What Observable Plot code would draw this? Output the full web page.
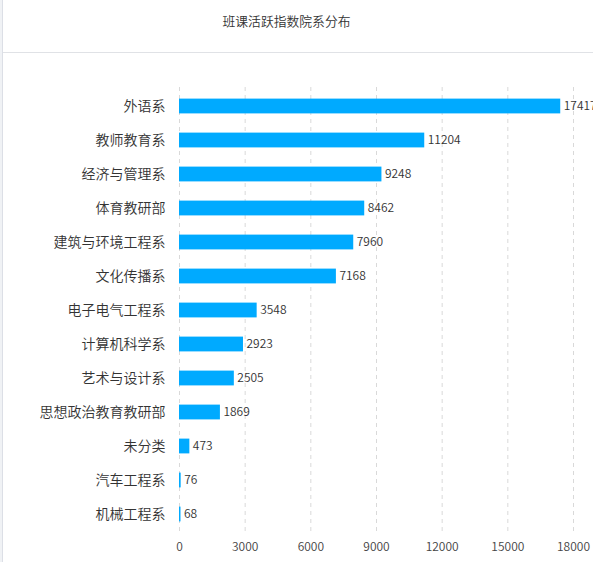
<!DOCTYPE html>
<html>
<head>
<meta charset="utf-8">
<script src="https://cdn.jsdelivr.net/npm/d3@7"></script>
<script src="https://cdn.jsdelivr.net/npm/@observablehq/plot@0.6"></script>
<style>
  html, body { margin: 0; padding: 0; background: #fff; }
  #frame {
    position: relative; width: 593px; height: 562px; overflow: hidden;
    font-family: "Noto Sans CJK SC", "Noto Sans", sans-serif;
  }
  #edge { position: absolute; left: 0; top: 0; width: 2px; height: 562px; background: #f0f2f5; border-right: 1px solid #dcdfe6; }
  #title {
    position: absolute; left: 0; top: 11px; width: 573px; text-align: center;
    font-size: 12.8px; line-height: 20px; color: #333; font-weight: 350;
  }
  #rule { position: absolute; left: 3px; top: 52px; width: 590px; height: 1px; background: #e0e2e6; }
  #chart { position: absolute; left: 0; top: 53px; }
  #chart svg { overflow: visible; }
  #chart text { font-weight: 350; }
</style>
</head>
<body>
<div id="frame">
  <div id="edge"></div>
  <div id="title">班课活跃指数院系分布</div>
  <div id="rule"></div>
  <div id="chart"></div>
</div>
<script>
// Departments, top to bottom
const departments = [
  "外语系", "教师教育系", "经济与管理系", "体育教研部", "建筑与环境工程系",
  "文化传播系", "电子电气工程系", "计算机科学系", "艺术与设计系",
  "思想政治教育教研部", "未分类", "汽车工程系", "机械工程系"
];
// Activity index per department
const activity = [17417, 11204, 9248, 8462, 7960, 7168, 3548, 2923, 2505, 1869, 473, 76, 68];
// Value axis ticks
const xTicks = [0, 3000, 6000, 9000, 12000, 15000, 18000];

const rows = departments.map((name, i) => ({name, value: activity[i]}));

const chart = Plot.plot({
  width: 593,
  height: 509,
  marginLeft: 179,
  marginRight: 20,
  marginTop: 34,
  marginBottom: 30,
  style: {fontFamily: "'Noto Sans CJK SC', 'Noto Sans', sans-serif", background: "transparent"},
  x: {domain: [0, 18000]},
  y: {domain: departments, padding: 0},
  marks: [
    Plot.gridX(xTicks, {stroke: "#d9d9d9", strokeOpacity: 1, strokeDasharray: "4,4"}),
    Plot.barX(rows, {x: "value", y: "name", fill: "#00aaff", insetTop: 9.6, insetBottom: 9.6}),
    Plot.text(rows, {x: "value", y: "name", text: d => String(d.value), textAnchor: "start", dx: 3, fontSize: 12, fill: "#333"}),
    Plot.axisX({ticks: xTicks, tickFormat: "d", tickSize: 0, tickPadding: 10, fontSize: 12, color: "#444", label: null}),
    Plot.axisY({tickSize: 0, tickPadding: 14, fontSize: 14, color: "#333", label: null})
  ]
});
document.getElementById("chart").appendChild(chart);
</script>
</body>
</html>
